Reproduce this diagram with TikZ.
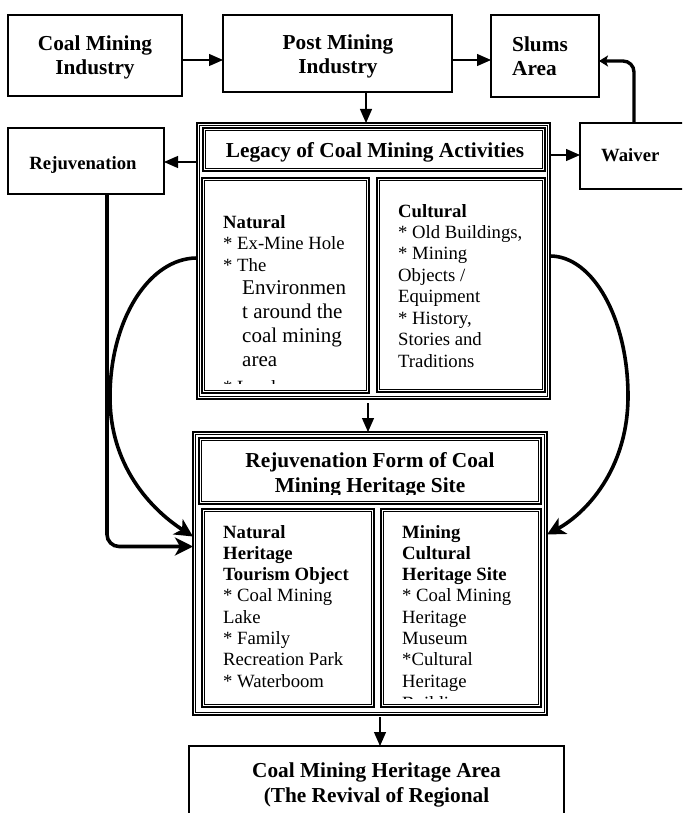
\documentclass[tikz,border=0pt]{standalone}
\usepackage{fontspec}
\setmainfont{Liberation Serif}
\usetikzlibrary{arrows.meta}
\tikzset{
  sbox/.style={draw, line width=2.3pt, anchor=north west, inner sep=0pt, outer sep=0pt},
  fbox/.style={draw, line width=1.9pt, anchor=north west, inner sep=0pt, outer sep=0pt},
  conn/.style={line width=1.2pt, -{Triangle[length=14pt, width=12pt]}},
  bigconn/.style={line width=3.6pt, -{Stealth[length=18pt, width=18pt, inset=5pt]}},
  smallconn/.style={line width=3.4pt, rounded corners=11pt, -{Stealth[length=9pt, width=11pt, inset=2pt]}},
  hd/.style={font=\bfseries\fontsize{21.3pt}{25pt}\selectfont, inner sep=0pt, anchor=base},
  hdl/.style={hd, anchor=base west},
  sb/.style={font=\bfseries\fontsize{18.7pt}{21.4pt}\selectfont, inner sep=0pt, anchor=base west},
  tx/.style={font=\fontsize{18.7pt}{21.4pt}\selectfont, inner sep=0pt, anchor=base west},
  tb/.style={font=\fontsize{21pt}{24pt}\selectfont, inner sep=0pt, anchor=base west},
}
\newcommand\innerline[1]{\draw[line width=0.9pt] ([shift={(2.7,2.7)}]#1.north west) rectangle ([shift={(-2.7,-2.7)}]#1.south east);}
\begin{document}
\begin{tikzpicture}[x=1pt, y=-1pt]
\useasboundingbox (0,0) rectangle (682,813);
\clip (0,0) rectangle (682,813);

% single boxes
\node[sbox, minimum width=174pt, minimum height=81pt] (coal) at (8,15) {};
\node[sbox, minimum width=229pt, minimum height=77pt] (post) at (223,15) {};
\node[sbox, minimum width=108pt, minimum height=82pt] (slums) at (491,15) {};
\node[sbox, minimum width=156pt, minimum height=66pt] (rejuv) at (8,128) {};
\node[sbox, minimum width=115pt, minimum height=66pt] (waiver) at (580,123) {};
\node[sbox, minimum width=375pt, minimum height=90pt] (area) at (189,746) {};

% framed (double) boxes
\node[fbox, minimum width=353pt, minimum height=276pt] (legacy) at (197,123) {};
\node[fbox, minimum width=342pt, minimum height=43pt] (lhead) at (203,128) {};
\node[fbox, minimum width=167pt, minimum height=215pt] (lnat) at (202,178) {};
\node[fbox, minimum width=168pt, minimum height=214pt] (lcul) at (377,178) {};
\node[fbox, minimum width=354pt, minimum height=283pt] (rform) at (193,432) {};
\node[fbox, minimum width=342pt, minimum height=66pt] (rhead) at (199,438) {};
\node[fbox, minimum width=172pt, minimum height=198pt] (rnat) at (202,509) {};
\node[fbox, minimum width=160pt, minimum height=198pt] (rcul) at (381,509) {};
\innerline{legacy}\innerline{lhead}\innerline{lnat}\innerline{lcul}
\innerline{rform}\innerline{rhead}\innerline{rnat}\innerline{rcul}

% texts of single boxes
\node[hd] (tcoal1) at (95,51) {Coal Mining};
\node[hd] (tcoal2) at (95,75) {Industry};
\node[hd] (tpost1) at (338,50) {Post Mining};
\node[hd] (tpost2) at (338,74) {Industry};
\node[hdl] (tslum1) at (512,52) {Slums};
\node[hdl] (tslum2) at (512,76) {Area};
\node[sb, anchor=base] (trej) at (83,170) {Rejuvenation};
\node[sb] (twai) at (601,162) {Waiver};
\node[hd] (tarea1) at (376.5,777) {Coal Mining Heritage Area};
\node[hd] (tarea2) at (376.5,802) {(The Revival of Regional};

% legacy header (clipped)
\begin{scope}
\clip (203,128) rectangle (545,161.5);
\node[hd] (tleg) at (375,158) {Legacy of Coal Mining Activities};
\end{scope}

% legacy natural
\node[sb] (lnat0) at (223,228) {Natural};
\foreach \t [count=\i from 1] in {* Ex-Mine Hole, * The}
  \node[tx] (lnt\i) at (223, 228+21.5*\i) {\t};
\foreach \t [count=\i from 0] in {Environmen, t around the, coal mining, area}
  \node[tb] (lne\i) at (242, 294+24*\i) {\t};
\begin{scope}
\clip (202,178) rectangle (369,383.5);
\node[tx] (lland) at (223,393) {* Land};
\end{scope}

% legacy cultural
\node[sb] (lcul0) at (398,217) {Cultural};
\foreach \t [count=\i from 1] in {{* Old Buildings,}, * Mining, Objects /, Equipment, {* History,}, Stories and, Traditions}
  \node[tx] (lct\i) at (398, 217+21.43*\i) {\t};

% rejuvenation form header (clipped)
\begin{scope}
\clip (199,438) rectangle (541,494.2);
\node[hd] (trf1) at (370,467.7) {Rejuvenation Form of Coal};
\node[hd] (trf2) at (370,492.7) {Mining Heritage Site};
\end{scope}

% natural heritage
\foreach \t [count=\i from 0] in {Natural, Heritage, Tourism Object}
  \node[sb] (rnb\i) at (223, 538+21.3*\i) {\t};
\foreach \t [count=\i from 3] in {* Coal Mining, Lake, * Family, Recreation Park, * Waterboom}
  \node[tx] (rnt\i) at (223, 538+21.3*\i) {\t};

% mining cultural heritage
\foreach \t [count=\i from 0] in {Mining, Cultural, Heritage Site}
  \node[sb] (rcb\i) at (402, 538+21.3*\i) {\t};
\foreach \t [count=\i from 3] in {* Coal Mining, Heritage, Museum, *Cultural, Heritage}
  \node[tx] (rct\i) at (402, 538+21.3*\i) {\t};
\begin{scope}
\clip (381,509) rectangle (541,698);
\node[tx] (rcbuild) at (402,709) {Building};
\end{scope}

% thin connectors
\coordinate (c1) at ([yshift=-4.5pt]coal.east);
\draw[conn] (c1) -- (c1 -| post.west);
\coordinate (c2) at ([yshift=-6.5pt]post.east);
\draw[conn] (c2) -- (c2 -| slums.west);
\coordinate (c3) at ([xshift=28.5pt]post.south);
\draw[conn] (c3) -- (c3 |- legacy.north);
\coordinate (c4) at ([yshift=-39pt]legacy.north west);
\draw[conn] (c4) -- (c4 -| rejuv.east);
\coordinate (c5) at ([yshift=-32pt]legacy.north east);
\draw[conn] (c5) -- (c5 -| waiver.west);
\coordinate (c6) at ([xshift=-5.5pt,yshift=-4pt]legacy.south);
\draw[conn] (c6) -- (c6 |- rform.north);
\coordinate (c7) at ([xshift=10pt,yshift=-2pt]rform.south);
\draw[conn] (c7) -- (c7 |- area.north);

% thick connectors
\draw[smallconn] ([xshift=-3.5pt]waiver.north) |- ([yshift=-5pt]slums.east);
\draw[bigconn, rounded corners=12pt] ([xshift=21pt]rejuv.south) |- ([yshift=27pt]rform.west);
\draw[bigconn] ([yshift=3pt]legacy.west) .. controls (149,258) and (110,320) .. (110,397)
  .. controls (110,472) and (158,514) .. ([yshift=37pt]rform.west);
\draw[bigconn] ([yshift=5pt]legacy.east) .. controls (593,256) and (628,319) .. (628,396)
  .. controls (628,470) and (585,514) .. ([yshift=39pt]rform.east);
\end{tikzpicture}
\end{document}
